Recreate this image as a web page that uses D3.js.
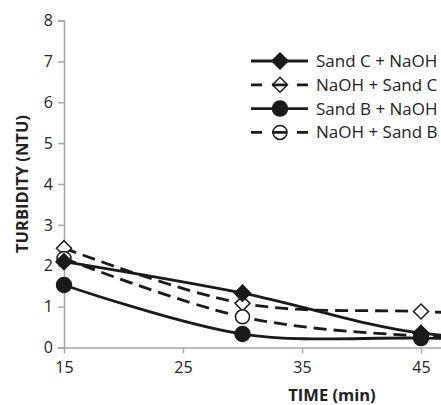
<!DOCTYPE html>
<html>
<head>
<meta charset="utf-8">
<script src="https://cdn.jsdelivr.net/npm/d3@7"></script>
<style>
  body { margin: 0; background: #fff; }
  svg { display: block; overflow: hidden; }
  text { font-family: "Open Sans", "Liberation Sans", sans-serif; fill: #222; }
</style>
</head>
<body>
<script>
// data
var times = [15, 30, 45, 60];
var sandCNaOH = [2.1, 1.33, 0.35, 0.2];
var naohSandC = [2.43, 1.08, 0.88, 0.75];
var sandBNaOH = [1.53, 0.33, 0.23, 0.2];
var naohSandB = [2.18, 0.75, 0.28, 0.2];
var xTicks = [15, 25, 35, 45];
var yTicks = [0, 1, 2, 3, 4, 5, 6, 7, 8];
var seriesNames = ["Sand C + NaOH", "NaOH + Sand C", "Sand B + NaOH", "NaOH + Sand B"];

var W = 441, H = 405;
var series = [
  { name: seriesNames[0], vals: sandCNaOH, dash: null, shape: "diamond", filled: true },
  { name: seriesNames[1], vals: naohSandC, dash: "13,7", shape: "diamond", filled: false },
  { name: seriesNames[2], vals: sandBNaOH, dash: null, shape: "circle", filled: true },
  { name: seriesNames[3], vals: naohSandB, dash: "13,7", shape: "circle", filled: false }
];

var svg = d3.select("body").append("svg")
  .attr("width", W)
  .attr("height", H);

var x = d3.scaleLinear().domain([15, 45]).range([64, 421]);
var y = d3.scaleLinear().domain([0, 8]).range([347.5, 20.5]);

var axisCol = "#a6a6a6";

// y axis
var yAx = svg.append("g")
  .attr("transform", "translate(" + x(15) + ",0)")
  .call(d3.axisLeft(y).tickValues(yTicks).tickSize(6).tickPadding(5).tickFormat(d3.format("d")));
yAx.select(".domain").attr("stroke", axisCol).attr("stroke-width", 1.5);
yAx.selectAll(".tick line").attr("stroke", axisCol).attr("stroke-width", 1.5);
yAx.selectAll("text").style("font-size", "16px").attr("fill", "#222")
  .style("font-family", "'Open Sans', sans-serif");

// x axis (runs on past the right edge, like the cropped original)
var xAx = svg.append("g")
  .attr("transform", "translate(0," + y(0) + ")")
  .call(d3.axisBottom(x.copy().domain([15, 60]).range([x(15), x(60)]))
    .tickValues(xTicks).tickSize(6).tickSizeOuter(0).tickPadding(8).tickFormat(d3.format("d")));
xAx.select(".domain").attr("stroke", axisCol).attr("stroke-width", 1.5);
xAx.selectAll(".tick line").attr("stroke", axisCol).attr("stroke-width", 1.5);
xAx.selectAll("text").style("font-size", "16px").attr("fill", "#222")
  .style("font-family", "'Open Sans', sans-serif");

// axis titles
svg.append("text")
  .attr("transform", "translate(22," + y(4) + ") rotate(-90)")
  .attr("text-anchor", "middle")
  .attr("dy", "0.35em")
  .style("font-size", "16.5px")
  .style("font-weight", "bold")
  .text("TURBIDITY (NTU)");

svg.append("text")
  .attr("x", 332)
  .attr("y", 401)
  .attr("text-anchor", "middle")
  .style("font-size", "16.5px")
  .style("font-weight", "bold")
  .text("TIME (min)");

var line = d3.line()
  .x(function (d, i) { return x(times[i]); })
  .y(function (d) { return y(d); })
  .curve(d3.curveCatmullRom.alpha(0.5));

function marker(g, s, cx, cy) {
  var fill = s.filled ? "#1a1a1a" : "#fff";
  if (s.shape == "diamond") {
    var r = s.filled ? 8 : 7.5;
    g.append("path")
      .attr("d", "M" + cx + "," + (cy - r) + "L" + (cx + r) + "," + cy + "L" + cx + "," + (cy + r) + "L" + (cx - r) + "," + cy + "Z")
      .attr("fill", fill).attr("stroke", "#1a1a1a").attr("stroke-width", 1.5);
  } else {
    g.append("circle")
      .attr("cx", cx).attr("cy", cy).attr("r", s.filled ? 7.5 : 7)
      .attr("fill", fill).attr("stroke", "#1a1a1a").attr("stroke-width", 1.5);
  }
}

var plot = svg.append("g");
series.forEach(function (s) {
  plot.append("path")
    .datum(s.vals)
    .attr("d", line)
    .attr("fill", "none")
    .attr("stroke", "#1a1a1a")
    .attr("stroke-width", 2.8)
    .attr("stroke-dasharray", s.dash);
});
// open markers underneath, filled ones on top
var order = [series[1], series[3], series[0], series[2]];
order.forEach(function (s) {
  var g = plot.append("g");
  s.vals.forEach(function (v, i) { marker(g, s, x(times[i]), y(v)); });
});

// legend
var leg = svg.append("g");
series.forEach(function (s, i) {
  var ly = 61 + i * 23.8;
  leg.append("line")
    .attr("x1", 251).attr("x2", 308).attr("y1", ly).attr("y2", ly)
    .attr("stroke", "#1a1a1a").attr("stroke-width", 2.8)
    .attr("stroke-dasharray", s.dash ? "11,10,15,10,11" : null);
  var g = leg.append("g");
  marker(g, { shape: s.shape, filled: s.filled }, 280, ly);
  if (!s.filled) g.selectAll("path,circle").attr("fill", "none");
  leg.append("text")
    .attr("x", 316).attr("y", ly)
    .attr("dy", "0.35em")
    .style("font-size", "17px")
    .text(s.name);
});
</script>
</body>
</html>
